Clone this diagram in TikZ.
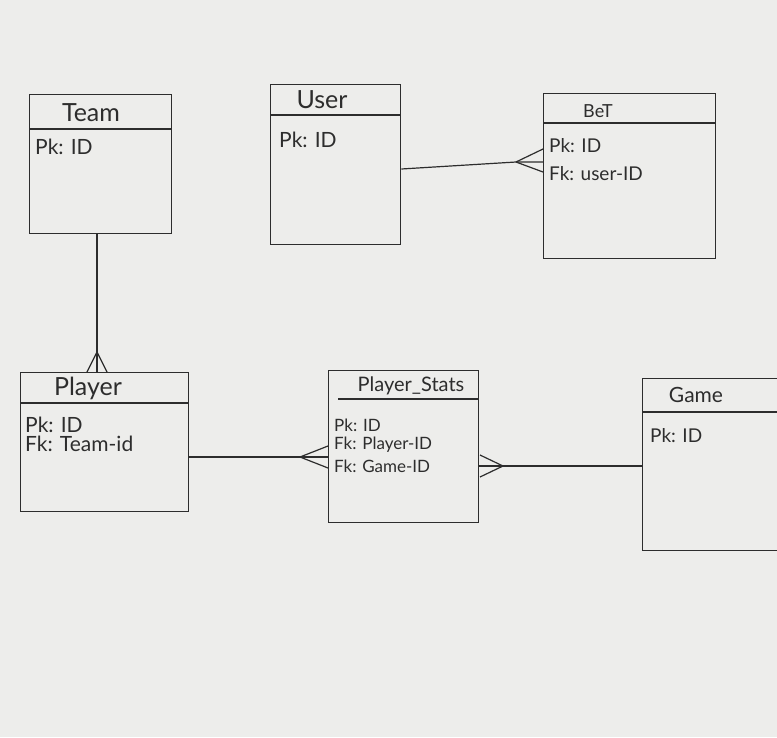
\documentclass[tikz,border=0pt]{standalone}
\usepackage{fontspec}
\setmainfont{Lato}
\definecolor{paper}{RGB}{237,237,235}
\definecolor{ink}{RGB}{45,45,45}
\tikzset{
  ent/.style={draw=ink, line width=1.3pt, anchor=north west, inner sep=0pt, rectangle},
  hdr/.style={text=ink, font=\fontsize{25}{27}\selectfont, inner sep=0pt},
  row/.style={text=ink, anchor=west, font=\fontsize{21}{23}\selectfont, inner sep=0pt},
  link/.style={draw=ink, line width=1.2pt},
  sep/.style={draw=ink, line width=1.3pt}
}
\begin{document}
\begin{tikzpicture}[x=1pt,y=-1pt]
\useasboundingbox (0,0) rectangle (777,737);
\clip (0,0) rectangle (777,737);
\fill[paper] (0,0) rectangle (777,737);

% Team
\node[ent, minimum width=142pt, minimum height=139pt] (team) at (29,94) {};
\draw[sep] (29,129) -- (171,129);
\node[hdr] (teamh) at (91,113) {Team};
\node[row] (team1) at (35,147) {Pk: ID};

% User
\node[ent, minimum width=130pt, minimum height=160pt] (user) at (270,84) {};
\draw[sep] (270,115) -- (400,115);
\node[hdr] (userh) at (322,100) {User};
\node[row] (user1) at (279,140) {Pk: ID};

% Bet
\node[ent, minimum width=172pt, minimum height=165pt] (bet) at (543,93) {};
\draw[sep] (543,123) -- (715,123);
\node[hdr, font=\fontsize{18}{20}\selectfont] (beth) at (598,111) {BeT};
\node[row, font=\fontsize{19}{21}\selectfont] (bet1) at (549,146) {Pk: ID};
\node[row, font=\fontsize{19}{21}\selectfont] (bet2) at (549,174) {Fk: user-ID};

% Player
\node[ent, minimum width=168pt, minimum height=139pt] (player) at (20,372) {};
\draw[sep] (20,403) -- (188,403);
\node[hdr] (playerh) at (88,388) {Player};
\node[row] (player1) at (25,425) {Pk: ID};
\node[row] (player2) at (25,444) {Fk: Team-id};

% Player_Stats
\node[ent, minimum width=150pt, minimum height=152pt] (stats) at (328,370) {};
\draw[sep] (338,399) -- (478,399);
\node[hdr, font=\fontsize{20}{22}\selectfont] (statsh) at (411,386) {Player\_Stats};
\node[row, font=\fontsize{17}{19}\selectfont] (stats1) at (334,425) {Pk: ID};
\node[row, font=\fontsize{17}{19}\selectfont] (stats2) at (334,445) {Fk: Player-ID};
\node[row, font=\fontsize{17}{19}\selectfont] (stats3) at (334,466) {Fk: Game-ID};

% Game
\node[ent, minimum width=200pt, minimum height=172pt] (game) at (642,378) {};
\draw[sep] (642,412) -- (777,412);
\node[hdr, font=\fontsize{21}{23}\selectfont] (gameh) at (696,395) {Game};
\node[row, font=\fontsize{19}{21}\selectfont] (game1) at (650,436) {Pk: ID};

% Team -- Player (many at Player)
\coordinate (tp) at (97,352);
\draw[link] (team.south -| tp) -- (player.north -| tp);
\draw[link] (tp) -- ++(-10,20) (tp) -- ++(10,20);

% User -- Bet (many at Bet)
\coordinate (ub) at (516,162);
\draw[link] (user.east |- 0,169) -- (ub) -- (bet.west |- ub);
\draw[link] (ub) -- ++(27,-13) (ub) -- ++(27,10);

% Player -- Player_Stats (many at Player_Stats)
\coordinate (ps) at (300,457);
\draw[link] (player.east |- ps) -- (stats.west |- ps);
\draw[link] (ps) -- ++(28,-11) (ps) -- ++(28,11);

% Player_Stats -- Game (many at Player_Stats)
\coordinate (sg) at (503,466);
\draw[link] (stats.east |- sg) -- (game.west |- sg);
\draw[link] (sg) -- ++(-23,-11) (sg) -- ++(-23,11);
\end{tikzpicture}
\end{document}
